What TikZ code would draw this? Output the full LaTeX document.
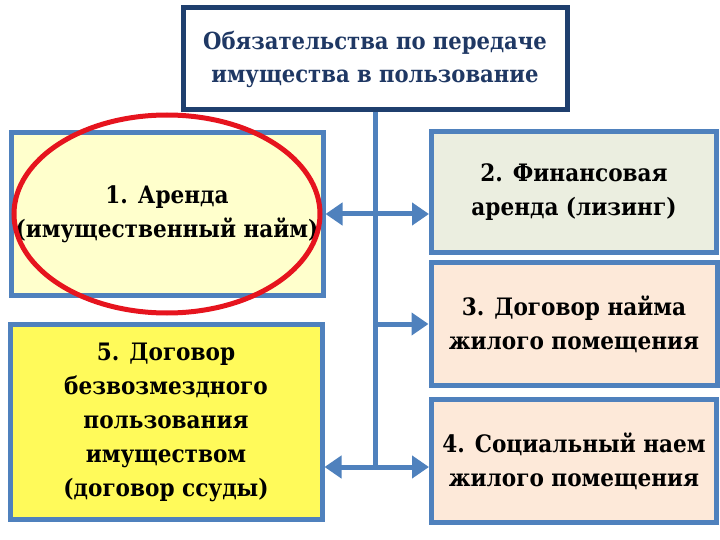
\documentclass[tikz,border=0pt]{standalone}
\usepackage{fontspec}
\setmainfont{DejaVu Serif Condensed Bold}
\usetikzlibrary{arrows.meta, positioning}

\definecolor{boxblue}{RGB}{79,129,189}
\definecolor{darkblue}{RGB}{31,63,110}
\definecolor{titleblue}{RGB}{31,56,100}
\definecolor{paleyellow}{RGB}{255,255,204}
\definecolor{brightyellow}{RGB}{255,250,90}
\definecolor{palegreen}{RGB}{235,238,224}
\definecolor{peach}{RGB}{253,233,217}
\definecolor{ringred}{RGB}{230,20,30}

\begin{document}
\begin{tikzpicture}[
    x=1pt, y=-1pt,
    every node/.style={align=center, inner sep=0pt, font=\fontsize{24}{34}\selectfont},
    box/.style={draw=boxblue, line width=5pt},
    link/.style={draw=boxblue, line width=5pt},
    tip/.style={-{Triangle[width=22pt,length=17pt]}},
    twotip/.style={{Triangle[width=22pt,length=17pt]}-{Triangle[width=22pt,length=17pt]}}
]
    \useasboundingbox (0,0) rectangle (720,540);

    % Nodes
    \node[draw=darkblue, line width=5pt, fill=white, text=titleblue, minimum width=384pt, minimum height=102pt,
          font=\fontsize{23.5}{33}\selectfont] (title) at (375,59)
        {Обязательства по передаче\\имущества в пользование};
    \node[box, fill=paleyellow, minimum width=312pt, minimum height=162pt] (arenda) at (167,214)
        {1. Аренда\\(имущественный найм)};
    \node[box, fill=brightyellow, minimum width=312pt, minimum height=195pt] (ssuda) at (166,422)
        {5. Договор\\безвозмездного\\пользования\\имуществом\\(договор ссуды)};
    \node[box, fill=palegreen, minimum width=285pt, minimum height=120pt] (lizing) at (574,192)
        {2. Финансовая\\аренда (лизинг)};
    \node[box, fill=peach, minimum width=286pt, minimum height=123pt] (naim) at (574,324)
        {3. Договор найма\\жилого помещения};
    \node[box, fill=peach, minimum width=285pt, minimum height=123pt] (social) at (574,461)
        {4. Социальный наем\\жилого помещения};
    \coordinate (trunkend) at (375,467);

    % Trunk
    \draw[link] (title.south) -- (trunkend);

    % Arrows
    \draw[link, twotip] (arenda.east) -- (arenda.east -| lizing.west);
    \draw[link, tip] (naim.west -| trunkend) -- (naim.west);
    \draw[link, twotip] (trunkend -| ssuda.east) -- (trunkend -| social.west);

    % Highlight
    \draw[ringred, line width=5pt] (arenda.center) ellipse [x radius=153, y radius=99];
\end{tikzpicture}
\end{document}
